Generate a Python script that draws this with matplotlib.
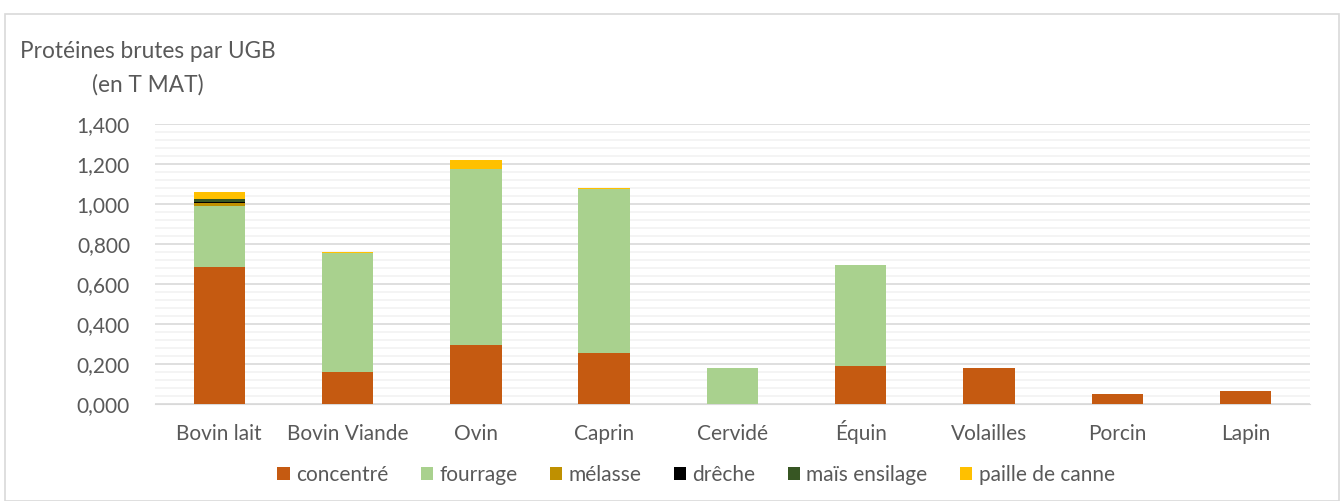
import matplotlib.pyplot as plt
from matplotlib import ticker
from matplotlib.patches import Rectangle
import numpy as np

plt.rcParams['font.family'] = ['Lato', 'DejaVu Sans']

# Categories and stacked series (T MAT per UGB)
categories = ["Bovin lait", "Bovin Viande", "Ovin", "Caprin", "Cervidé",
              "Équin", "Volailles", "Porcin", "Lapin"]
concentre = [0.685, 0.160, 0.295, 0.255, 0.000, 0.190, 0.180, 0.050, 0.065]
fourrage = [0.307, 0.595, 0.878, 0.820, 0.178, 0.505, 0.000, 0.000, 0.000]
melasse = [0.015, 0.000, 0.000, 0.000, 0.000, 0.000, 0.000, 0.000, 0.000]
dreche = [0.005, 0.000, 0.000, 0.000, 0.000, 0.000, 0.000, 0.000, 0.000]
mais_ensilage = [0.015, 0.000, 0.000, 0.000, 0.000, 0.000, 0.000, 0.000, 0.000]
paille_canne = [0.034, 0.005, 0.047, 0.005, 0.000, 0.000, 0.000, 0.000, 0.000]

series = [
    ("concentré", concentre, "#C55A11"),
    ("fourrage", fourrage, "#A9D18E"),
    ("mélasse", melasse, "#BF9000"),
    ("drêche", dreche, "#000000"),
    ("maïs ensilage", mais_ensilage, "#375623"),
    ("paille de canne", paille_canne, "#FFC000"),
]

TEXT = "#595959"
FS = 15

fig = plt.figure(figsize=(13.4, 5.01), dpi=100)
ax = fig.add_axes([155 / 1340, 1 - 404 / 501, 1155 / 1340, 280 / 501])

# Chart frame
fig.patches.append(Rectangle((5 / 1340, 0), 1 - 6 / 1340, 1 - 14 / 501,
                             transform=fig.transFigure, fill=False,
                             edgecolor="#D9D9D9", linewidth=1.2))

x = np.arange(len(categories))
bottom = np.zeros(len(categories))
for label, vals, color in series:
    vals = np.array(vals)
    ax.bar(x, vals, 0.4, bottom=bottom, color=color, label=label, zorder=3)
    bottom += vals

ax.set_xlim(-0.5, len(categories) - 0.5)
ax.set_ylim(0, 1.4)
ax.yaxis.set_major_locator(ticker.MultipleLocator(0.2))
ax.yaxis.set_minor_locator(ticker.MultipleLocator(0.04))
ax.yaxis.set_major_formatter(ticker.FuncFormatter(lambda v, p: f"{v:.3f}".replace(".", ",")))
ax.grid(axis="y", which="major", color="#D9D9D9", linewidth=1.2, zorder=0)
ax.grid(axis="y", which="minor", color="#F2F2F2", linewidth=1.2, zorder=0)
ax.set_axisbelow(True)

for s in ["top", "right", "left"]:
    ax.spines[s].set_visible(False)
ax.spines["bottom"].set_color("#D9D9D9")
ax.tick_params(axis="both", which="both", length=0, labelsize=FS, colors=TEXT)
ax.tick_params(axis="y", pad=18)
ax.tick_params(axis="x", pad=26)
ax.set_xticks(x)
ax.set_xticklabels(categories, va="baseline")

fig.text(20 / 1340, 1 - 52 / 501, "Protéines brutes par UGB", fontsize=16.3, color=TEXT, va="center")
fig.text(92 / 1340, 1 - 85 / 501, "(en T MAT)", fontsize=16.3, color=TEXT, va="center")

fig.legend(loc="center", bbox_to_anchor=(696 / 1340, 1 - 475 / 501), ncol=6,
           frameon=False, fontsize=FS, labelcolor=TEXT, handlelength=0.6,
           handleheight=0.6, handletextpad=0.3, columnspacing=1.55)

fig.savefig("out.png", dpi=100)
